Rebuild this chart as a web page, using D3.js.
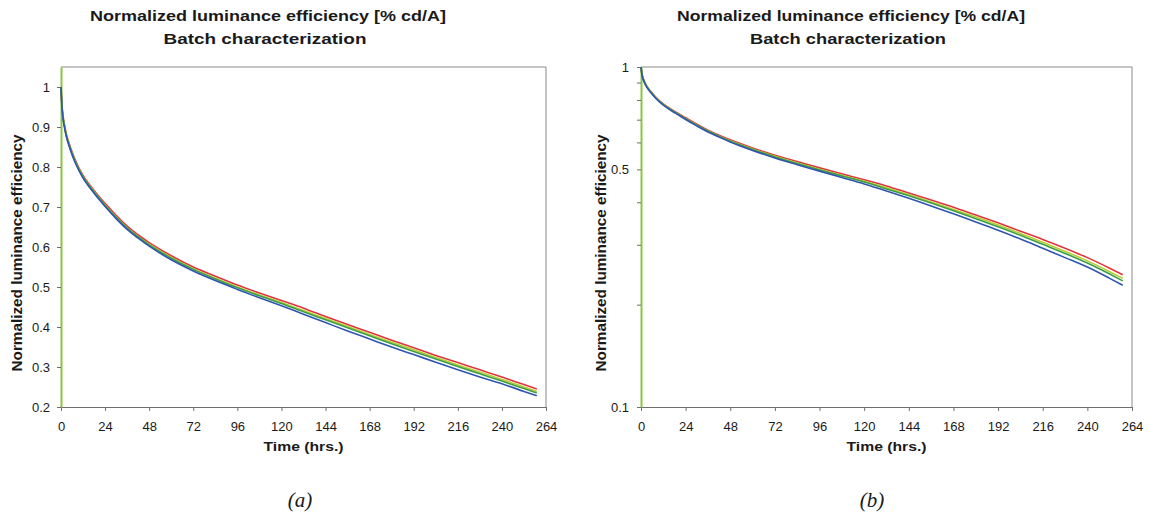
<!DOCTYPE html>
<html>
<head>
<meta charset="utf-8">
<script src="https://cdn.jsdelivr.net/npm/d3@7"></script>
<style>
  body { margin: 0; background: #fff; }
  text { font-family: "Liberation Sans", Arial, sans-serif; fill: #1a1a1a; }
</style>
</head>
<body>
<svg id="chart" width="1150" height="524"></svg>
<script>
// time axis of the measurement (hours)
const hours = [0, 0.5, 1, 2, 3, 4, 6, 8, 12, 16, 20, 24, 30, 36, 42, 48, 60, 72, 84, 96,
  108, 120, 132, 144, 156, 168, 180, 192, 204, 216, 228, 240, 252, 259];

// normalized efficiency of the four devices of the batch
const redDevice = [1.0, 0.957, 0.932, 0.903, 0.881, 0.865, 0.838, 0.815, 0.779, 0.753, 0.73, 0.709,
  0.679, 0.652, 0.63, 0.611, 0.578, 0.55, 0.527, 0.505, 0.485, 0.466, 0.447, 0.426, 0.406, 0.387,
  0.367, 0.348, 0.329, 0.311, 0.293, 0.275, 0.256, 0.245];
const limeDevice = [1.0, 0.955, 0.93, 0.9, 0.878, 0.862, 0.835, 0.812, 0.776, 0.75, 0.727, 0.705,
  0.675, 0.648, 0.626, 0.607, 0.574, 0.546, 0.522, 0.5, 0.48, 0.461, 0.441, 0.421, 0.401, 0.381,
  0.362, 0.343, 0.324, 0.305, 0.287, 0.269, 0.25, 0.239];
const greenDevice = [1.0, 0.953, 0.928, 0.899, 0.877, 0.861, 0.834, 0.811, 0.775, 0.749, 0.726, 0.704,
  0.674, 0.647, 0.625, 0.605, 0.572, 0.544, 0.52, 0.498, 0.478, 0.459, 0.438, 0.418, 0.398, 0.378,
  0.358, 0.339, 0.32, 0.301, 0.283, 0.265, 0.246, 0.235];
const blueDevice = [1.0, 0.95, 0.925, 0.896, 0.874, 0.858, 0.831, 0.808, 0.772, 0.746, 0.723, 0.701,
  0.671, 0.644, 0.622, 0.602, 0.568, 0.54, 0.516, 0.494, 0.473, 0.453, 0.432, 0.411, 0.39, 0.37,
  0.35, 0.331, 0.312, 0.293, 0.275, 0.258, 0.239, 0.228];

// tick labels
const hourTicks = [0, 24, 48, 72, 96, 120, 144, 168, 192, 216, 240, 264];
const linearTicks = [0.2, 0.3, 0.4, 0.5, 0.6, 0.7, 0.8, 0.9, 1];
const logTicks = [0.1, 0.2, 0.3, 0.4, 0.5, 0.6, 0.7, 0.8, 0.9, 1];
const logLabels = [0.1, 0.5, 1];

const titleLine1 = "Normalized luminance efficiency [% cd/A]";
const titleLine2 = "Batch characterization";
const yTitle = "Normalized luminance efficiency";
const xTitle = "Time (hrs.)";

const svg = d3.select("#chart");

let devices = [
  { values: redDevice, color: "#e2343f" },
  { values: limeDevice, color: "#b5cf2e" },
  { values: greenDevice, color: "#3d9e48" },
  { values: blueDevice, color: "#2f55b0" }
];

// the scanned figure uses a wide bold face, so stretch the bold texts a bit
function WideText(sel, size, len) {
  return sel.style("font-size", size + "px")
    .style("font-weight", "bold")
    .attr("textLength", len)
    .attr("lengthAdjust", "spacingAndGlyphs");
}

function DrawPanel(p) {
  let x = d3.scaleLinear().domain([0, 264]).range([p.left, p.right]);
  let y;
  if (p.log) {
    y = d3.scaleLog().domain([0.1, 1]).range([p.bottom, p.top]);
  } else {
    y = d3.scaleLinear().domain([0.2, 1.05]).range([p.bottom, p.top]);
  }

  // frame (top and right edges)
  svg.append("path")
    .attr("d", `M${p.left},${p.top}H${p.right}V${p.bottom}`)
    .attr("fill", "none")
    .attr("stroke", "#8a8a8a")
    .attr("stroke-width", 1);

  // x axis
  let xAxis = svg.append("g")
    .attr("transform", `translate(0,${p.bottom})`)
    .call(d3.axisBottom(x).tickValues(hourTicks).tickSize(4).tickSizeOuter(0).tickPadding(11));
  xAxis.select(".domain").attr("stroke", "#6e6e6e").attr("stroke-width", 1.2);
  xAxis.selectAll(".tick line").attr("stroke", "#6e6e6e");
  xAxis.selectAll("text").style("font-size", "13px").attr("fill", "#1a1a1a");

  // y axis
  let yAxisFn = d3.axisLeft(y).tickSize(4).tickSizeOuter(0);
  if (p.log) {
    yAxisFn.tickValues(logTicks)
      .tickPadding(8)
      .tickFormat(d => logLabels.some(v => Math.abs(v - d) < 1e-9) ? d3.format("~g")(d) : "");
  } else {
    yAxisFn.tickValues(linearTicks).tickPadding(7).tickFormat(d3.format("~g"));
  }
  let yAxis = svg.append("g")
    .attr("transform", `translate(${p.left},0)`)
    .call(yAxisFn);
  yAxis.select(".domain").attr("stroke", "#8cc63e").attr("stroke-width", 2);
  yAxis.selectAll(".tick line").attr("stroke", "#6e6e6e");
  yAxis.selectAll("text").style("font-size", "13px").attr("fill", "#1a1a1a");

  // series
  let line = d3.line()
    .x((d, i) => x(hours[i]))
    .y(d => y(d))
    .curve(d3.curveMonotoneX);
  svg.append("g")
    .selectAll("path")
    .data(devices)
    .enter()
    .append("path")
    .attr("d", d => line(d.values))
    .attr("fill", "none")
    .attr("stroke", d => d.color)
    .attr("stroke-width", 1.6)
    .attr("stroke-linejoin", "round");

  // titles
  WideText(svg.append("text")
    .attr("x", p.titleX).attr("y", 21)
    .attr("text-anchor", "middle"), 15.5, p.title1Len)
    .text(titleLine1);
  WideText(svg.append("text")
    .attr("x", p.titleX - 3).attr("y", 44)
    .attr("text-anchor", "middle"), 15.5, p.title2Len)
    .text(titleLine2);

  // axis titles
  WideText(svg.append("text")
    .attr("x", (p.left + p.right) / 2).attr("y", 451)
    .attr("text-anchor", "middle"), 13.5, 80)
    .text(xTitle);
  WideText(svg.append("text")
    .attr("transform", `translate(${p.yTitleX},253) rotate(-90)`)
    .attr("text-anchor", "middle"), 14, 237)
    .text(yTitle);

  // caption
  svg.append("text")
    .attr("x", p.captionX).attr("y", 507)
    .attr("text-anchor", "middle")
    .style("font-family", "'Liberation Serif', 'Times New Roman', serif")
    .style("font-style", "italic")
    .style("font-size", "21px")
    .text(p.caption);
}

DrawPanel({ left: 61, right: 546, top: 67, bottom: 407, log: false,
  titleX: 268, title1Len: 356, title2Len: 203,
  yTitleX: 22, captionX: 300, caption: "(a)" });
DrawPanel({ left: 641, right: 1132, top: 67, bottom: 407, log: true,
  titleX: 851, title1Len: 348, title2Len: 196,
  yTitleX: 606, captionX: 872, caption: "(b)" });
</script>
</body>
</html>
